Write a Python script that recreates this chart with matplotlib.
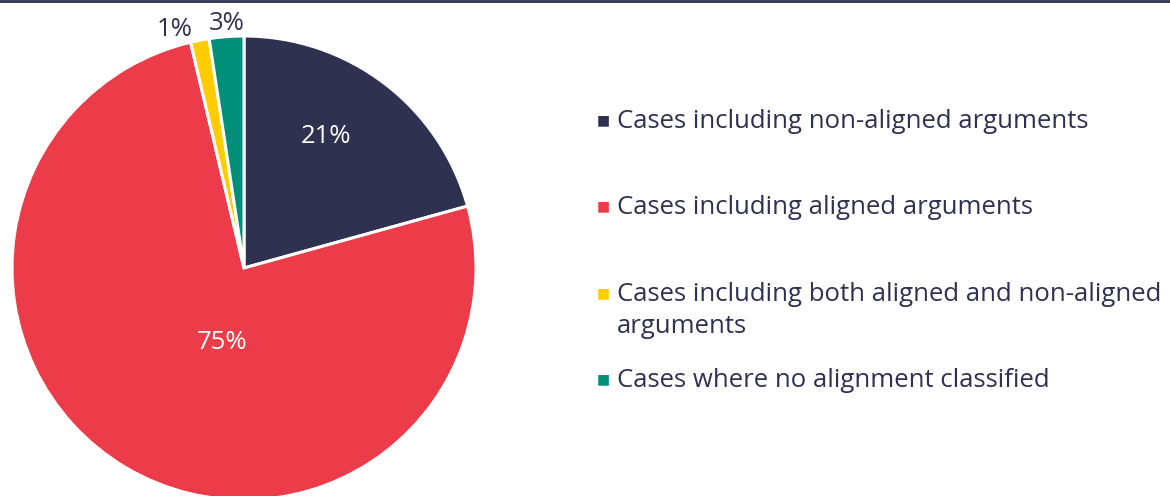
import matplotlib.pyplot as plt
from matplotlib.lines import Line2D

# Share of cases by alignment of arguments
categories = [
    'Cases including non-aligned arguments',
    'Cases including aligned arguments',
    'Cases including both aligned and non-aligned\narguments',
    'Cases where no alignment classified',
]
shares = [20.7, 75.6, 1.3, 2.4]
pct_labels = ['21%', '75%', '1%', '3%']
colors = ['#2E3250', '#EC3C4A', '#FFCC00', '#00907A']
text_color = '#2E3250'

plt.rcParams['font.family'] = ['Open Sans', 'DejaVu Sans']

W, H = 1170, 496
fig = plt.figure(figsize=(W / 100, H / 100), dpi=100)

# pie axes placed in pixel units: centre (244, 268), radius 232
cx, cy, r = 244, 268, 232
ax = fig.add_axes([(cx - r) / W, (H - cy - r) / H, 2 * r / W, 2 * r / H])
wedges, _ = ax.pie(shares, colors=colors, startangle=90, counterclock=False,
                   radius=1, wedgeprops=dict(edgecolor='white', linewidth=2.2))
ax.set_xlim(-1, 1)
ax.set_ylim(-1, 1)
ax.set_aspect('equal')
ax.axis('off')

# percentage labels
ax.text(0.355, 0.565, pct_labels[0], color='white', fontsize=18.5, ha='center', va='center')
ax.text(-0.095, -0.32, pct_labels[1], color='white', fontsize=18.5, ha='center', va='center')
ax.text(-0.3, 1.03, pct_labels[2], color=text_color, fontsize=18.5, ha='center', va='center')
ax.text(-0.075, 1.055, pct_labels[3], color=text_color, fontsize=18.5, ha='center', va='center')

# legend drawn by hand so the marker sits on the first line
legend_y = [121, 207, 294, 380]
for cat, col, y in zip(categories, colors, legend_y):
    fig.text(603 / W, 1 - y / H, '\u25A0', color=col, fontsize=10, ha='center', va='center')
    fig.text(617 / W, 1 - (y - 12) / H, cat, color=text_color, fontsize=18.5,
             ha='left', va='top', linespacing=1.36)

# thin rule along the top edge
fig.add_artist(Line2D([0, 1], [1 - 1 / H, 1 - 1 / H], color=text_color, linewidth=2,
                      transform=fig.transFigure))

fig.savefig('out.png', dpi=100)
